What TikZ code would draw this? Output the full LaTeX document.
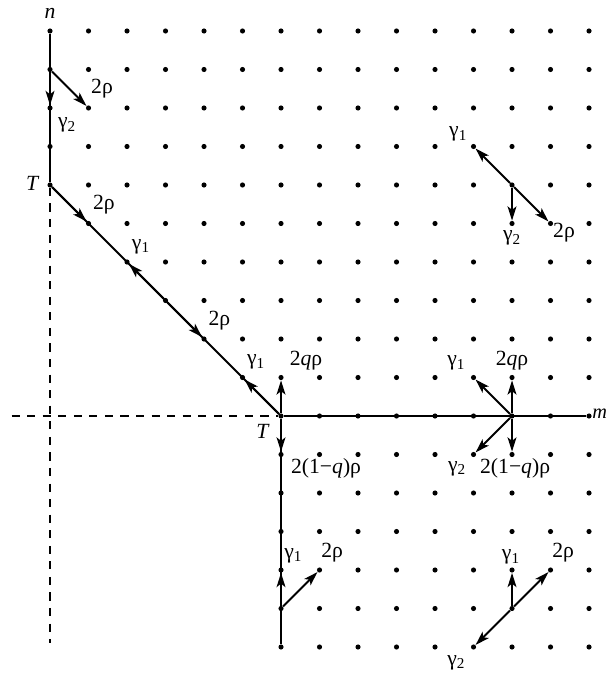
\documentclass[tikz,border=0pt]{standalone}
\usepackage{fontspec}
\setmainfont{Liberation Serif}
\usetikzlibrary{arrows.meta,positioning}

\newcommand{\gsub}[1]{γ\textsubscript{#1}}

\begin{document}
\begin{tikzpicture}[
  x=1cm, y=1cm,
  font=\fontsize{16}{19}\selectfont,
  pt/.style={circle, fill, inner sep=0pt, minimum size=3.8pt},
  ln/.style={line width=1.5pt},
  arr/.style={-{Stealth[length=10.5pt, width=6.5pt, inset=2.5pt]}, line width=1.5pt},
  ax/.style={line width=1.5pt, dash pattern=on 6pt off 5.5pt},
  lbl/.style={inner sep=0pt}
]
\useasboundingbox (-1.299,-6.675) rectangle (14.494,10.805);

% lattice points
\foreach \n in {-6,...,10}{
  \pgfmathtruncatemacro\s{max(min(6-\n,6),0)}
  \foreach \m in {\s,...,14}
    \node[pt] (p\m x\n) at (\m,\n) {};
}
\coordinate (west) at (-1,0);
\coordinate (south) at (0,-5.9);

% axes
\draw[ax] (west) -- (p6x0);
\draw[ax] (p0x6) -- (south);
\draw[ln] (p0x10) -- (p0x6);
\draw[ln] (p0x6) -- (p6x0);
\draw[ln] (p6x0) -- (p14x0);
\draw[ln] (p6x0) -- (p6x-6);

% boundary jumps
\draw[arr] (p0x9) -- (p0x8);
\draw[arr] (p0x9) -- (p1x8);
\draw[arr] (p0x6) -- (p1x5);
\draw[arr] (p3x3) -- (p2x4);
\draw[arr] (p3x3) -- (p4x2);
\draw[arr] (p6x0) -- (p5x1);
\draw[arr] (p6x0) -- (p6x1);
\draw[arr] (p6x0) -- (p6x-1);
\draw[arr] (p6x-5) -- (p6x-4);
\draw[arr] (p6x-5) -- (p7x-4);

% interior jumps
\draw[arr] (p12x6) -- (p11x7);
\draw[arr] (p12x6) -- (p12x5);
\draw[arr] (p12x6) -- (p13x5);
\draw[arr] (p12x0) -- (p11x1);
\draw[arr] (p12x0) -- (p12x1);
\draw[arr] (p12x0) -- (p11x-1);
\draw[arr] (p12x0) -- (p12x-1);
\draw[arr] (p12x-5) -- (p12x-4);
\draw[arr] (p12x-5) -- (p13x-4);
\draw[arr] (p12x-5) -- (p11x-6);

% labels
\node[lbl] (ln) at (0,10.45) {\textit{n}};
\node[lbl, anchor=west, font=\fontsize{15}{18}\selectfont] (lm) at (14.08,0.05) {\textit{m}};
\node[lbl] (lT1) at (-0.45,6.05) {\textit{T}};
\node[lbl] (lT2) at (5.53,-0.41) {\textit{T}};

\node[lbl] (a1) at (0.44,7.56) {\gsub{2}};
\node[lbl] (a2) at (1.35,8.5) {2ρ};
\node[lbl] (a3) at (1.4,5.5) {2ρ};
\node[lbl] (a4) at (2.36,4.4) {\gsub{1}};
\node[lbl] (a5) at (4.4,2.47) {2ρ};
\node[lbl] (a6) at (5.35,1.4) {\gsub{1}};
\node[lbl] (a7) at (6.65,1.43) {2\textit{q}ρ};
\node[lbl] (a8) at (7.17,-1.36) {2(1−\textit{q})ρ};
\node[lbl] (a9) at (6.32,-3.63) {\gsub{1}};
\node[lbl] (a10) at (7.33,-3.56) {2ρ};

\node[lbl] (b1) at (10.6,7.32) {\gsub{1}};
\node[lbl] (b2) at (12.0,4.62) {\gsub{2}};
\node[lbl] (b3) at (13.35,4.77) {2ρ};
\node[lbl] (b4) at (10.55,1.37) {\gsub{1}};
\node[lbl] (b5) at (12.0,1.43) {2\textit{q}ρ};
\node[lbl] (b6) at (10.57,-1.36) {\gsub{2}};
\node[lbl] (b7) at (12.08,-1.36) {2(1−\textit{q})ρ};
\node[lbl] (b8) at (11.97,-3.66) {\gsub{1}};
\node[lbl] (b9) at (13.33,-3.56) {2ρ};
\node[lbl] (b10) at (10.55,-6.4) {\gsub{2}};
\end{tikzpicture}
\end{document}
